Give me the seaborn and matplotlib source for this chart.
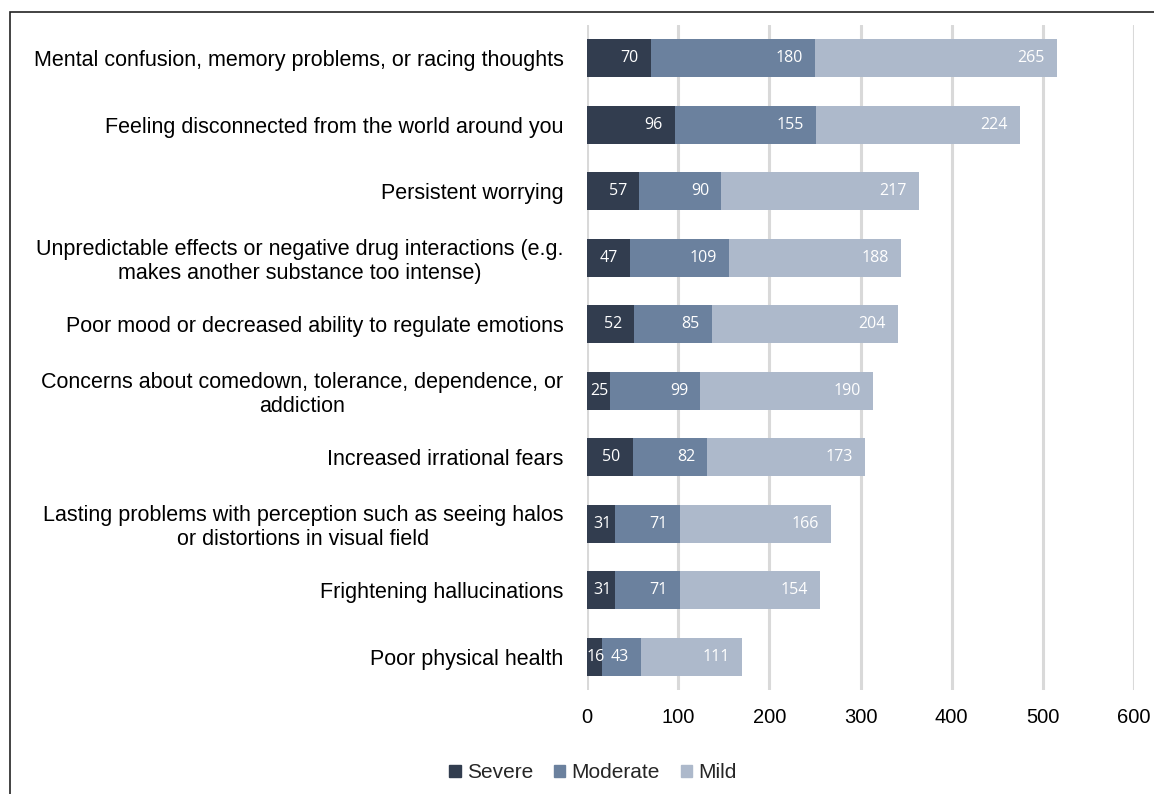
import matplotlib
matplotlib.use("Agg")
import matplotlib.pyplot as plt
import matplotlib.patches as mpatches
import seaborn as sns
import pandas as pd
import numpy as np

categories = [
    "Mental confusion, memory problems, or racing thoughts",
    "Feeling disconnected from the world around you",
    "Persistent worrying",
    "Unpredictable effects or negative drug interactions (e.g.\nmakes another substance too intense)",
    "Poor mood or decreased ability to regulate emotions",
    "Concerns about comedown, tolerance, dependence, or\naddiction",
    "Increased irrational fears",
    "Lasting problems with perception such as seeing halos\nor distortions in visual field",
    "Frightening hallucinations",
    "Poor physical health",
]
severe = [70, 96, 57, 47, 52, 25, 50, 31, 31, 16]
moderate = [180, 155, 90, 109, 85, 99, 82, 71, 71, 43]
mild = [265, 224, 217, 188, 204, 190, 173, 166, 154, 111]
series_names = ["Severe", "Moderate", "Mild"]
colors = ["#323d4f", "#6b819e", "#adb9cb"]
x_ticks = [0, 100, 200, 300, 400, 500, 600]

sns.set_theme(style="white")
plt.rcParams["font.family"] = ["Liberation Sans", "DejaVu Sans"]

df = pd.DataFrame({"category": categories, "Severe": severe,
                   "Moderate": moderate, "Mild": mild})
df["c1"] = df["Severe"]
df["c2"] = df["Severe"] + df["Moderate"]
df["c3"] = df["c2"] + df["Mild"]

fig = plt.figure(figsize=(11.54, 7.94), dpi=100)
ax = fig.add_axes([587/1154, 1-690/794, (1134-587)/1154, (690-25)/794])

bw = 0.57
for col, c in zip(["c3", "c2", "c1"], [colors[2], colors[1], colors[0]]):
    sns.barplot(data=df, x=col, y="category", orient="h", color=c,
                width=bw, linewidth=0, saturation=1, ax=ax, zorder=3)

ax.set_xlim(0, 600)
ax.set_xticks(x_ticks)
ax.set_xticklabels([str(t) for t in x_ticks])
ax.set_xlabel("")
ax.set_ylabel("")
for s in ax.spines.values():
    s.set_visible(False)
ax.xaxis.grid(True, color="#d9d9d9", linewidth=2.2, zorder=0)
ax.yaxis.grid(False)
ax.set_axisbelow(True)
ax.tick_params(axis="y", length=0, pad=17, labelsize=15.5, labelcolor="#000000")
ax.tick_params(axis="x", length=0, pad=13, labelsize=14.5, labelcolor="#000000")
for lab in ax.get_yticklabels():
    lab.set_multialignment("center")
    lab.set_linespacing(1.2)

# data labels
px_per_unit = (1134-587)/600
for i in range(len(categories)):
    starts = [0, severe[i], severe[i]+moderate[i]]
    vals = [severe[i], moderate[i], mild[i]]
    for st, v in zip(starts, vals):
        end = st + v
        seg_px = v * px_per_unit
        tw = len(str(v)) * 8.5
        kw = dict(textcoords="offset points", va="center", color="white",
                  fontsize=11.5, family=["Open Sans", "DejaVu Sans"], zorder=5)
        if seg_px < tw + 14:
            ax.annotate(str(v), xy=(st + v / 2, i), xytext=(1, 0), ha="center", **kw)
        else:
            ax.annotate(str(v), xy=(end, i), xytext=(-12 * 0.72, 0), ha="right", **kw)

handles = [mpatches.Patch(color=c, label=n) for n, c in zip(series_names, colors)]
fig.legend(handles=handles, loc="center", bbox_to_anchor=(593/1154, 1-773/794),
           ncol=3, frameon=False, fontsize=15, handlelength=0.55, handleheight=0.55,
           handletextpad=0.3, columnspacing=1.0)

# outer border
border = mpatches.Rectangle((10/1154, -0.05), 1.2, 1-12/794+0.05,
                            transform=fig.transFigure, fill=False,
                            edgecolor="#222222", linewidth=1.2, clip_on=False)
fig.patches.append(border)

fig.savefig("out.png", dpi=100)
